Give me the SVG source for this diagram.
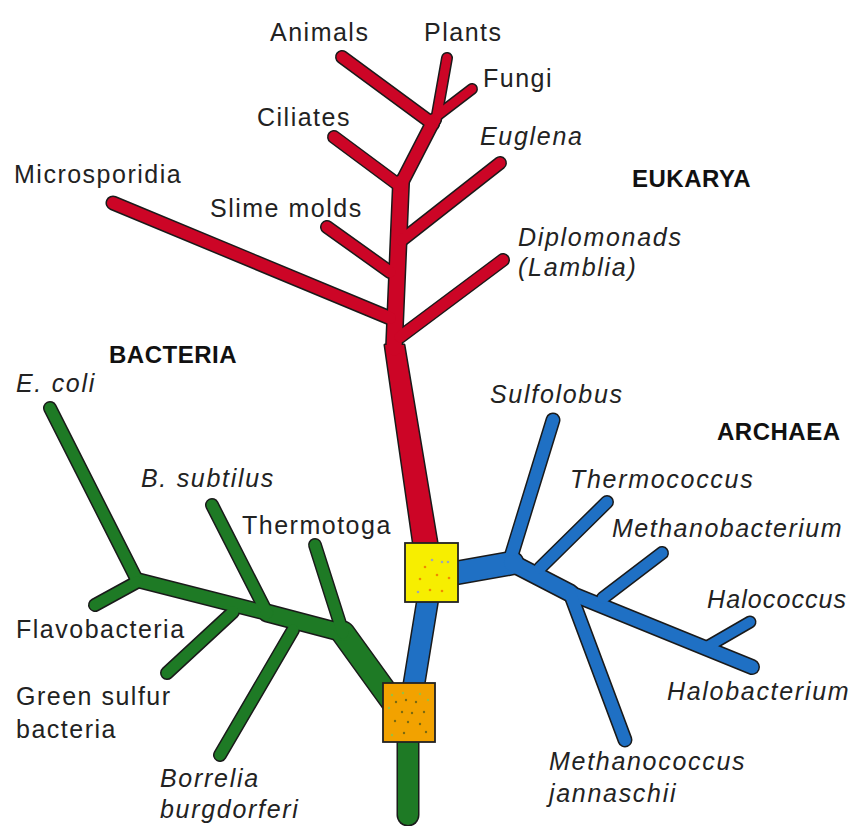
<svg xmlns="http://www.w3.org/2000/svg" width="854" height="826" viewBox="0 0 854 826">
<style>
.t{font-family:"Liberation Sans",Arial,sans-serif;font-size:25px;fill:#222;letter-spacing:1.5px}
.i{font-style:italic;letter-spacing:1.7px}
.b{font-family:"Liberation Sans",Arial,sans-serif;font-size:24px;font-weight:bold;fill:#111;letter-spacing:0.5px}
.o line{stroke:#1a1a1a;stroke-linecap:round}
.o polygon{fill:#1a1a1a;stroke:#1a1a1a;stroke-width:3;stroke-linejoin:round}
.f line{stroke-linecap:round}
.red line{stroke:#cc0526}.red polygon{fill:#cc0526}
.blue line{stroke:#1f70c4}
.green line{stroke:#1e7a25}
.box{stroke:#222;stroke-width:1.8}
</style>
<rect width="854" height="826" fill="#fff"/>
<g id="connectors">
 <g class="o">
  <polygon points="385,345 404,345 438,548 414,548"/>
  <line x1="394" y1="348" x2="401" y2="183" stroke-width="18"/>
  <line x1="400" y1="186" x2="434" y2="120" stroke-width="15"/>
  <line x1="342" y1="57" x2="433" y2="124" stroke-width="14"/>
  <line x1="447" y1="58" x2="436" y2="120" stroke-width="12"/>
  <line x1="472" y1="89" x2="438" y2="115" stroke-width="12"/>
  <line x1="334" y1="137" x2="400" y2="186" stroke-width="14"/>
  <line x1="500" y1="163" x2="402" y2="240" stroke-width="14"/>
  <line x1="327" y1="227" x2="390" y2="272" stroke-width="14"/>
  <line x1="113" y1="203" x2="390" y2="318" stroke-width="15"/>
  <line x1="503" y1="260" x2="400" y2="337" stroke-width="14"/>
  <line x1="413" y1="690" x2="428" y2="598" stroke-width="23"/>
  <line x1="450" y1="574" x2="512" y2="563" stroke-width="25"/>
  <line x1="553" y1="420" x2="510" y2="560" stroke-width="15"/>
  <line x1="512" y1="563" x2="570" y2="593" stroke-width="19"/>
  <line x1="570" y1="593" x2="752" y2="667" stroke-width="16"/>
  <line x1="607" y1="502" x2="540" y2="568" stroke-width="14"/>
  <line x1="662" y1="553" x2="603" y2="598" stroke-width="14"/>
  <line x1="750" y1="622" x2="705" y2="648" stroke-width="13"/>
  <line x1="570" y1="593" x2="625" y2="740" stroke-width="15"/>
  <line x1="408" y1="730" x2="408" y2="815" stroke-width="23"/>
  <line x1="395" y1="705" x2="343" y2="633" stroke-width="25"/>
  <line x1="343" y1="633" x2="267" y2="613" stroke-width="19"/>
  <line x1="267" y1="613" x2="137" y2="580" stroke-width="16"/>
  <line x1="50" y1="408" x2="137" y2="580" stroke-width="14"/>
  <line x1="95" y1="605" x2="137" y2="582" stroke-width="14"/>
  <line x1="212" y1="505" x2="267" y2="613" stroke-width="14"/>
  <line x1="167" y1="673" x2="233" y2="612" stroke-width="14"/>
  <line x1="315" y1="545" x2="343" y2="633" stroke-width="14"/>
  <line x1="220" y1="755" x2="293" y2="630" stroke-width="14"/>
 </g>
 <g class="f red">
  <polygon points="385,345 404,345 438,548 414,548"/>
  <line x1="394" y1="348" x2="401" y2="183" stroke-width="15"/>
  <line x1="400" y1="186" x2="434" y2="120" stroke-width="12"/>
  <line x1="342" y1="57" x2="433" y2="124" stroke-width="11"/>
  <line x1="447" y1="58" x2="436" y2="120" stroke-width="9"/>
  <line x1="472" y1="89" x2="438" y2="115" stroke-width="9"/>
  <line x1="334" y1="137" x2="400" y2="186" stroke-width="11"/>
  <line x1="500" y1="163" x2="402" y2="240" stroke-width="11"/>
  <line x1="327" y1="227" x2="390" y2="272" stroke-width="11"/>
  <line x1="113" y1="203" x2="390" y2="318" stroke-width="12"/>
  <line x1="503" y1="260" x2="400" y2="337" stroke-width="11"/>
 </g>
 <g class="f blue">
  <line x1="413" y1="690" x2="428" y2="598" stroke-width="20"/>
  <line x1="450" y1="574" x2="512" y2="563" stroke-width="22"/>
  <line x1="553" y1="420" x2="510" y2="560" stroke-width="12"/>
  <line x1="512" y1="563" x2="570" y2="593" stroke-width="16"/>
  <line x1="570" y1="593" x2="752" y2="667" stroke-width="13"/>
  <line x1="607" y1="502" x2="540" y2="568" stroke-width="11"/>
  <line x1="662" y1="553" x2="603" y2="598" stroke-width="11"/>
  <line x1="750" y1="622" x2="705" y2="648" stroke-width="10"/>
  <line x1="570" y1="593" x2="625" y2="740" stroke-width="12"/>
 </g>
 <g class="f green">
  <line x1="408" y1="730" x2="408" y2="815" stroke-width="20"/>
  <line x1="395" y1="705" x2="343" y2="633" stroke-width="22"/>
  <line x1="343" y1="633" x2="267" y2="613" stroke-width="16"/>
  <line x1="267" y1="613" x2="137" y2="580" stroke-width="13"/>
  <line x1="50" y1="408" x2="137" y2="580" stroke-width="11"/>
  <line x1="95" y1="605" x2="137" y2="582" stroke-width="11"/>
  <line x1="212" y1="505" x2="267" y2="613" stroke-width="11"/>
  <line x1="167" y1="673" x2="233" y2="612" stroke-width="11"/>
  <line x1="315" y1="545" x2="343" y2="633" stroke-width="11"/>
  <line x1="220" y1="755" x2="293" y2="630" stroke-width="11"/>
 </g>
</g>
<g id="root-yellow">
 <rect class="box" x="405" y="543" width="53" height="59" fill="#f7ee00"/>
 <g fill="#f08a00">
  <circle cx="425" cy="567" r="1.3"/><circle cx="437" cy="575" r="1.3"/><circle cx="420" cy="579" r="1.3"/>
  <circle cx="430" cy="590" r="1.3"/><circle cx="442" cy="591" r="1.3"/><circle cx="449" cy="578" r="1.3"/>
 </g>
 <g fill="#a0a8b0">
  <circle cx="432" cy="560" r="1.3"/><circle cx="442" cy="562" r="1.3"/><circle cx="448" cy="562" r="1.3"/><circle cx="418" cy="592" r="1.3"/>
 </g>
</g>
<g id="root-orange">
 <rect class="box" x="383" y="683" width="52" height="59" fill="#f2a200"/>
 <g fill="#7a6a10">
  <circle cx="396" cy="702" r="1.2"/><circle cx="406" cy="700" r="1.2"/><circle cx="416" cy="702" r="1.2"/>
  <circle cx="402" cy="712" r="1.2"/><circle cx="412" cy="713" r="1.2"/><circle cx="424" cy="712" r="1.2"/>
  <circle cx="395" cy="721" r="1.2"/><circle cx="408" cy="722" r="1.2"/><circle cx="420" cy="724" r="1.2"/>
  <circle cx="426" cy="732" r="1.2"/><circle cx="404" cy="733" r="1.2"/>
 </g>
 <g fill="#9ac040">
  <circle cx="392" cy="695" r="1.2"/><circle cx="403" cy="693" r="1.2"/><circle cx="420" cy="694" r="1.2"/>
  <circle cx="389" cy="708" r="1.2"/><circle cx="392" cy="735" r="1.2"/><circle cx="428" cy="700" r="1.2"/>
 </g>
</g>
<g id="group-labels">
 <text class="b" x="632" y="187">EUKARYA</text>
 <text class="b" x="109" y="363">BACTERIA</text>
 <text class="b" x="717" y="440">ARCHAEA</text>
</g>
<g id="eukarya">
 <g id="animals"><text class="t" x="270" y="41">Animals</text></g>
 <g id="plants"><text class="t" x="424" y="41">Plants</text></g>
 <g id="fungi"><text class="t" x="483" y="87">Fungi</text></g>
 <g id="ciliates"><text class="t" x="257" y="126">Ciliates</text></g>
 <g id="euglena"><text class="t i" x="480" y="145">Euglena</text></g>
 <g id="microsporidia"><text class="t" x="14" y="183">Microsporidia</text></g>
 <g id="slime-molds"><text class="t" x="210" y="217">Slime molds</text></g>
 <g id="diplomonads"><text class="t i" x="518" y="246">Diplomonads</text><text class="t i" x="518" y="276">(Lamblia)</text></g>
</g>
<g id="bacteria">
 <g id="ecoli"><text class="t i" x="16" y="392">E. coli</text></g>
 <g id="bsubtilus"><text class="t i" x="141" y="487">B. subtilus</text></g>
 <g id="thermotoga"><text class="t" x="242" y="534">Thermotoga</text></g>
 <g id="flavobacteria"><text class="t" x="16" y="638">Flavobacteria</text></g>
 <g id="green-sulfur"><text class="t" x="16" y="705">Green sulfur</text><text class="t" x="16" y="738">bacteria</text></g>
 <g id="borrelia"><text class="t i" x="160" y="787">Borrelia</text><text class="t i" x="160" y="818">burgdorferi</text></g>
</g>
<g id="archaea">
 <g id="sulfolobus"><text class="t i" x="490" y="403">Sulfolobus</text></g>
 <g id="thermococcus"><text class="t i" x="570" y="488">Thermococcus</text></g>
 <g id="methanobacterium"><text class="t i" x="612" y="537" style="letter-spacing:1.5px">Methanobacterium</text></g>
 <g id="halococcus"><text class="t i" x="707" y="608" style="letter-spacing:1.1px">Halococcus</text></g>
 <g id="halobacterium"><text class="t i" x="667" y="700">Halobacterium</text></g>
 <g id="methanococcus"><text class="t i" x="549" y="770">Methanococcus</text><text class="t i" x="549" y="802">jannaschii</text></g>
</g>
</svg>
